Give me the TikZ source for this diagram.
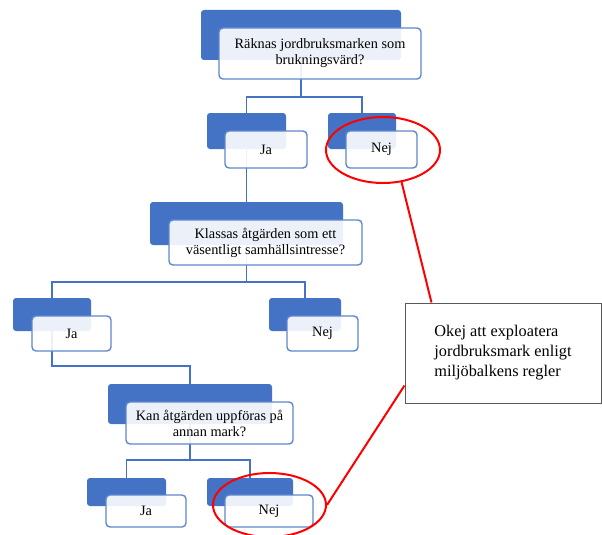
\documentclass[tikz,border=0pt]{standalone}
\usepackage{fontspec}
\setmainfont{Liberation Serif}
\usetikzlibrary{shapes.geometric}
\definecolor{smblue}{HTML}{4472C4}

\begin{document}
\begin{tikzpicture}[x=1pt, y=-1pt,
  back/.style={fill=smblue, rounded corners=3pt, inner sep=0pt},
  front/.style={draw=smblue!85!white, line width=1.4pt, fill=white, fill opacity=0.9, text opacity=1,
    rounded corners=4pt, inner sep=0pt, align=center, font=\fontsize{14.3}{16}\selectfont},
  conn/.style={draw=smblue, line width=1.4pt},
  ring/.style={draw=red, line width=2pt, ellipse, inner sep=0pt}]
\useasboundingbox (0,0) rectangle (602,535);

% blue back boxes
\node[back, minimum width=200pt, minimum height=50pt] (q1b) at (301,35) {};
\node[back, minimum width=79pt, minimum height=36pt] (ja1b) at (246.5,131) {};
\node[back, minimum width=68pt, minimum height=36pt] (nej1b) at (362,131) {};
\node[back, minimum width=193pt, minimum height=43pt] (q2b) at (246.5,223.5) {};
\node[back, minimum width=78pt, minimum height=33pt] (ja2b) at (52,314.5) {};
\node[back, minimum width=72pt, minimum height=33pt] (nej2b) at (305,314.5) {};
\node[back, minimum width=164pt, minimum height=40pt] (q3b) at (190,404) {};
\node[back, minimum width=79pt, minimum height=28pt] (ja3b) at (126.5,492) {};
\node[back, minimum width=86pt, minimum height=28pt] (nej3b) at (250,492) {};

% connectors
\coordinate (bus1) at (301,97);
\draw[conn] (q1b.south) -- (bus1) -| (ja1b.north);
\draw[conn] (bus1) -| (nej1b.north);
\draw[conn] (ja1b.south) -- (q2b.north);
\coordinate (bus2) at (246.5,282);
\draw[conn] (q2b.south) -- (bus2) -| (ja2b.north);
\draw[conn] (bus2) -| (nej2b.north);
\coordinate (bus3) at (52,366);
\draw[conn] (ja2b.south) -- (bus3) -| (q3b.north);
\coordinate (bus4) at (190,460);
\draw[conn] (q3b.south) -- (bus4) -| (ja3b.north);
\draw[conn] (bus4) -| (nej3b.north);

% white front boxes
\node[front, minimum width=202pt, minimum height=51pt] (q1) at (320,53.5) {Räknas jordbruksmarken som\\brukningsvärd?};
\node[front, minimum width=82pt, minimum height=37pt] (ja1) at (266,149.5) {Ja};
\node[front, minimum width=71pt, minimum height=37pt] (nej1) at (381.5,149.5) {Nej};
\node[front, minimum width=193pt, minimum height=45pt] (q2) at (265.5,242.5) {Klassas åtgärden som ett\\väsentligt samhällsintresse?};
\node[front, minimum width=79pt, minimum height=35pt] (ja2) at (71.5,333.5) {Ja};
\node[front, minimum width=71pt, minimum height=35pt] (nej2) at (322.5,333.5) {Nej};
\node[front, minimum width=167pt, minimum height=42pt] (q3) at (209.5,423) {Kan åtgärden uppföras på\\annan mark?};
\node[front, minimum width=80pt, minimum height=32pt] (ja3) at (146,511) {Ja};
\node[front, minimum width=88pt, minimum height=32pt] (nej3) at (269,511) {Nej};

% note and red marks
\node[draw=gray!70!black, line width=1pt, minimum width=196pt, minimum height=100pt, align=left,
  font=\fontsize{16.3}{20}\selectfont] (note) at (503,353)
  {Okej att exploatera\\jordbruksmark enligt\\miljöbalkens regler};
\node[ring, minimum width=114pt, minimum height=66pt] (ring1) at (383,150) {};
\node[ring, minimum width=113pt, minimum height=64pt] (ring2) at (269.5,505) {};
\draw[red, line width=2pt] (ring1.300) -- ([xshift=27pt]note.north west);
\draw[red, line width=2pt] ([yshift=18pt]note.south west) -- (ring2.east);
\end{tikzpicture}
\end{document}
